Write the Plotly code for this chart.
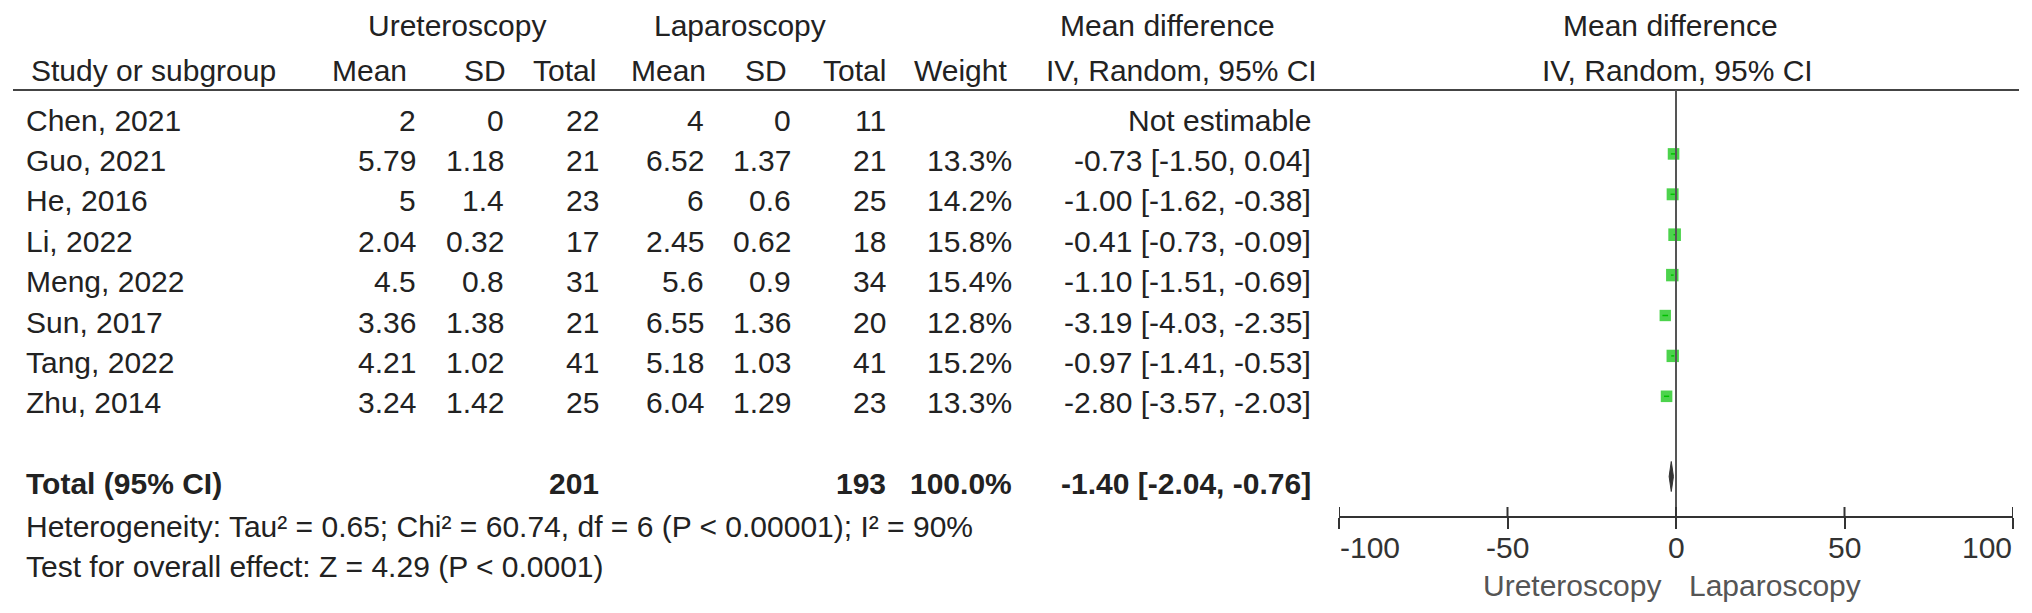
import plotly.graph_objects as go

# ---------------- data ----------------
studies = ["Chen, 2021", "Guo, 2021", "He, 2016", "Li, 2022", "Meng, 2022",
           "Sun, 2017", "Tang, 2022", "Zhu, 2014"]
ure_mean = [2, 5.79, 5, 2.04, 4.5, 3.36, 4.21, 3.24]
ure_sd = [0, 1.18, 1.4, 0.32, 0.8, 1.38, 1.02, 1.42]
ure_total = [22, 21, 23, 17, 31, 21, 41, 25]
lap_mean = [4, 6.52, 6, 2.45, 5.6, 6.55, 5.18, 6.04]
lap_sd = [0, 1.37, 0.6, 0.62, 0.9, 1.36, 1.03, 1.29]
lap_total = [11, 21, 25, 18, 34, 20, 41, 23]
weight = [None, 13.3, 14.2, 15.8, 15.4, 12.8, 15.2, 13.3]
md = [None, -0.73, -1.00, -0.41, -1.10, -3.19, -0.97, -2.80]
md_lo = [None, -1.50, -1.62, -0.73, -1.51, -4.03, -1.41, -3.57]
md_hi = [None, 0.04, -0.38, -0.09, -0.69, -2.35, -0.53, -2.03]

total_ure = 201
total_lap = 193
total_weight = 100.0
total_md, total_lo, total_hi = -1.40, -2.04, -0.76

heterogeneity = "Heterogeneity: Tau² = 0.65; Chi² = 60.74, df = 6 (P < 0.00001); I² = 90%"
overall = "Test for overall effect: Z = 4.29 (P < 0.0001)"

tick_vals = [-100, -50, 0, 50, 100]
tick_text = ["-100", "-50", "0", "50", "100"]
favours_left = "Ureteroscopy"
favours_right = "Laparoscopy"

# ---------------- layout constants (pixels) ----------------
W, H = 2032, 613
FONT = "Liberation Sans, Arial, sans-serif"
FS = 30
TXT = "#222222"
row_y0, row_step = 120, 40.4
total_y, het_y, test_y = 483, 526, 566
hdr1_y, hdr2_y, rule_y = 25, 70, 90
axis_y = 517
tick_lab_y = 547
fav_y = 585
mark_off = -6.5
plot_x0, plot_x1 = 1339, 2013

data_right = [417, 505, 600, 705, 792, 887, 1013, 1312]
head_right = [408, 507, 597, 707, 788, 887, 1008, 1318]
head_names = ["Mean", "SD", "Total", "Mean", "SD", "Total", "Weight", "IV, Random, 95% CI"]


def px(x):
    return x / W


ann = []


def text(s, x, y, anchor="left", bold=False, color=TXT, xref="paper", size=FS):
    ann.append(dict(text=f"<b>{s}</b>" if bold else s, x=x, y=y, xref=xref, yref="y",
                    xanchor=anchor, yanchor="middle", showarrow=False,
                    font=dict(family=FONT, size=size, color=color), borderpad=0))


# headers
text("Ureteroscopy", px(457), hdr1_y, "center")
text("Laparoscopy", px(740), hdr1_y, "center")
text("Mean difference", px(1167), hdr1_y, "center")
text("Mean difference", px(1670), hdr1_y, "center")
text("Study or subgroup", px(30), hdr2_y, "left")
for name, xr in zip(head_names, head_right):
    text(name, px(xr), hdr2_y, "right")
text("IV, Random, 95% CI", px(1677), hdr2_y, "center")

# study rows
row_ys = [row_y0 + i * row_step for i in range(len(studies))]
for i, s in enumerate(studies):
    y = row_ys[i]
    text(s, px(25), y, "left")
    w_str = "" if weight[i] is None else f"{weight[i]:.1f}%"
    md_str = ("Not estimable" if md[i] is None
              else f"{md[i]:.2f} [{md_lo[i]:.2f}, {md_hi[i]:.2f}]")
    vals = [str(ure_mean[i]), str(ure_sd[i]), str(ure_total[i]),
            str(lap_mean[i]), str(lap_sd[i]), str(lap_total[i]), w_str, md_str]
    for v, xr in zip(vals, data_right):
        if v:
            text(v, px(xr), y, "right")

# total row
text("Total (95% CI)", px(25), total_y, "left", bold=True)
text(str(total_ure), px(data_right[2]), total_y, "right", bold=True)
text(str(total_lap), px(data_right[5]), total_y, "right", bold=True)
text(f"{total_weight:.1f}%", px(data_right[6]), total_y, "right", bold=True)
text(f"{total_md:.2f} [{total_lo:.2f}, {total_hi:.2f}]", px(data_right[7]), total_y, "right", bold=True)

text(heterogeneity, px(25), het_y, "left")
text(overall, px(25), test_y, "left")

# tick labels on the forest axis (end labels kept inside the axis, as in RevMan)
for v, t in zip(tick_vals, tick_text):
    anc = "left" if v == min(tick_vals) else ("right" if v == max(tick_vals) else "center")
    text(t, v, tick_lab_y, anc, color="#333333", xref="x")

# favours labels
text(favours_left, px(1662), fav_y, "right", color="#555555")
text(favours_right, px(1688), fav_y, "left", color="#555555")

fig = go.Figure()

# study squares with CIs
xs, ys, sizes, ep, em = [], [], [], [], []
for i in range(len(studies)):
    if md[i] is None:
        continue
    xs.append(md[i])
    ys.append(row_ys[i] + mark_off)
    sizes.append(12 * (weight[i] / 14.3) ** 0.5)
    ep.append(md_hi[i] - md[i])
    em.append(md[i] - md_lo[i])

fig.add_trace(go.Scatter(
    x=xs, y=ys, mode="markers",
    marker=dict(symbol="square", size=sizes, color="#00C000", line=dict(width=0)),
    error_x=dict(type="data", array=ep, arrayminus=em, color="#00C000", thickness=1.5, width=0),
    showlegend=False, hoverinfo="skip"))

# pooled diamond
dy = total_y + mark_off
fig.add_trace(go.Scatter(
    x=[total_lo, total_md, total_hi, total_md, total_lo],
    y=[dy, dy - 15, dy, dy + 15, dy],
    mode="lines", fill="toself", fillcolor="#333333",
    line=dict(color="#333333", width=1), showlegend=False, hoverinfo="skip"))

shapes = [
    dict(type="line", xref="paper", yref="y", x0=px(13), x1=px(2019), y0=rule_y, y1=rule_y,
         line=dict(color="#444444", width=2)),
    dict(type="line", xref="x", yref="y", x0=0, x1=0, y0=rule_y, y1=axis_y,
         line=dict(color="#555555", width=2)),
]
for v in tick_vals:
    shapes.append(dict(type="line", xref="x", yref="y", x0=v, x1=v, y0=axis_y - 10, y1=axis_y,
                       line=dict(color="#333333", width=2)))

fig.update_layout(
    width=W, height=H,
    margin=dict(l=0, r=0, t=0, b=0, pad=0, autoexpand=False),
    paper_bgcolor="white", plot_bgcolor="white",
    showlegend=False, hovermode=False,
    annotations=ann, shapes=shapes,
    xaxis=dict(domain=[px(plot_x0), px(plot_x1)], range=[-100, 100],
               anchor="free", position=(H - axis_y) / H,
               showgrid=False, zeroline=False, showline=True,
               linecolor="#333333", linewidth=2,
               ticks="outside", ticklen=11, tickwidth=2, tickcolor="#333333",
               tickvals=tick_vals, showticklabels=False, fixedrange=True),
    yaxis=dict(domain=[0, 1], range=[H, 0], visible=False, showgrid=False,
               zeroline=False, fixedrange=True),
)

fig.write_html("out.html", config={"displayModeBar": False, "staticPlot": True},
               post_script="document.body.style.margin='0';document.body.style.overflow='hidden';")
